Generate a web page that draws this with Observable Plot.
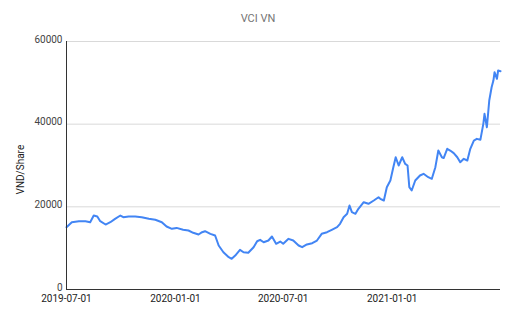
<!DOCTYPE html>
<html><head><meta charset="utf-8">
<script src="https://cdn.jsdelivr.net/npm/d3@7"></script>
<script src="https://cdn.jsdelivr.net/npm/@observablehq/plot@0.6"></script>
<style>
body{margin:0;background:#fff;font-family:Roboto,sans-serif;}
#title{height:30px;box-sizing:border-box;padding-top:12px;line-height:14px;font-size:11px;color:#757575;text-align:center;width:516px;}
</style></head><body>
<div id="title">VCI VN</div>
<div id="chart"></div>
<script>
const dates = ["2019-07-01","2019-07-10","2019-07-22","2019-08-02","2019-08-10","2019-08-16","2019-08-22","2019-08-27","2019-09-05","2019-09-13","2019-09-21","2019-09-30","2019-10-05","2019-10-14","2019-10-25","2019-11-05","2019-11-17","2019-11-28","2019-12-09","2019-12-17","2019-12-26","2020-01-03","2020-01-14","2020-01-23","2020-01-31","2020-02-09","2020-02-15","2020-02-20","2020-02-29","2020-03-08","2020-03-14","2020-03-22","2020-03-31","2020-04-05","2020-04-11","2020-04-19","2020-04-25","2020-05-03","2020-05-12","2020-05-18","2020-05-23","2020-05-29","2020-06-06","2020-06-12","2020-06-19","2020-06-26","2020-07-01","2020-07-10","2020-07-18","2020-07-27","2020-08-02","2020-08-10","2020-08-19","2020-08-27","2020-09-04","2020-09-13","2020-09-21","2020-09-30","2020-10-05","2020-10-11","2020-10-17","2020-10-21","2020-10-25","2020-10-31","2020-11-05","2020-11-14","2020-11-22","2020-12-01","2020-12-09","2020-12-12","2020-12-18","2020-12-23","2020-12-29","2021-01-03","2021-01-07","2021-01-12","2021-01-18","2021-01-23","2021-01-27","2021-01-30","2021-02-03","2021-02-09","2021-02-17","2021-02-23","2021-03-03","2021-03-09","2021-03-15","2021-03-20","2021-03-26","2021-03-29","2021-04-04","2021-04-09","2021-04-15","2021-04-21","2021-04-26","2021-05-02","2021-05-08","2021-05-13","2021-05-19","2021-05-24","2021-05-30","2021-06-04","2021-06-06","2021-06-10","2021-06-14","2021-06-18","2021-06-21","2021-06-23","2021-06-27","2021-06-29","2021-07-03"];
const prices = [15070,16280,16520,16520,16280,17900,17660,16520,15720,16280,17100,17900,17490,17660,17660,17490,17100,16860,16280,15240,14680,14900,14440,14270,13720,13300,13860,14100,13470,13060,10640,9020,7810,7430,8220,9600,9020,8880,10230,11680,12020,11440,11850,12820,11050,11600,11050,12260,11850,10640,10230,10890,11200,11850,13470,13860,14440,15070,15890,17490,18310,20320,18700,18310,19520,21120,20730,21530,22330,21940,21530,24750,26370,29590,32000,30000,32000,30400,30000,24750,23950,26370,27580,27990,27170,26780,29590,33620,32000,31800,34040,33620,33000,32000,30790,31620,31210,34040,36040,36450,36210,40080,42500,39260,45720,48940,50560,52560,50970,52980,52810];
const yTicks = [0, 20000, 40000, 60000];
const xTickLabels = ["2019-07-01", "2020-01-01", "2020-07-01", "2021-01-01"];
const yLabel = "VND/Share";

const data = dates.map((d, i) => ({date: new Date(d), price: prices[i]}));
const xStart = new Date("2019-07-01");
const xEnd = new Date("2021-07-03");
const xTicks = xTickLabels.map(s => new Date(s));

const chart = Plot.plot({
  width: 516,
  height: 288,
  marginTop: 11,
  marginBottom: 29,
  marginLeft: 66,
  marginRight: 16,
  style: {fontFamily: "Roboto, sans-serif", fontSize: "10px", background: "#fff", overflow: "visible"},
  x: {type: "utc", domain: [xStart, xEnd], label: null},
  y: {domain: [0, 60000], label: null},
  marks: [
    Plot.gridY(yTicks, {stroke: "#d9d9d9", strokeOpacity: 1, strokeWidth: 1}),
    Plot.lineY(data, {x: "date", y: "price", stroke: "#4285F4", strokeWidth: 2}),
    Plot.ruleX([xStart], {stroke: "#333", strokeWidth: 1}),
    Plot.ruleY([0], {stroke: "#333", strokeWidth: 1}),
    Plot.axisX(xTicks, {tickSize: 0, tickPadding: 5, tickFormat: d3.utcFormat("%Y-%m-%d"), color: "#222", label: null}),
    Plot.axisY(yTicks, {tickSize: 0, tickPadding: 4, dy: -2, tickFormat: d => String(d), color: "#444", label: null}),
    Plot.text([yLabel], {x: xStart, y: 29000, dx: -46, rotate: -90, text: d => d, fill: "#222", fontSize: 10})
  ]
});
document.getElementById("chart").appendChild(chart);
</script>
</body></html>
